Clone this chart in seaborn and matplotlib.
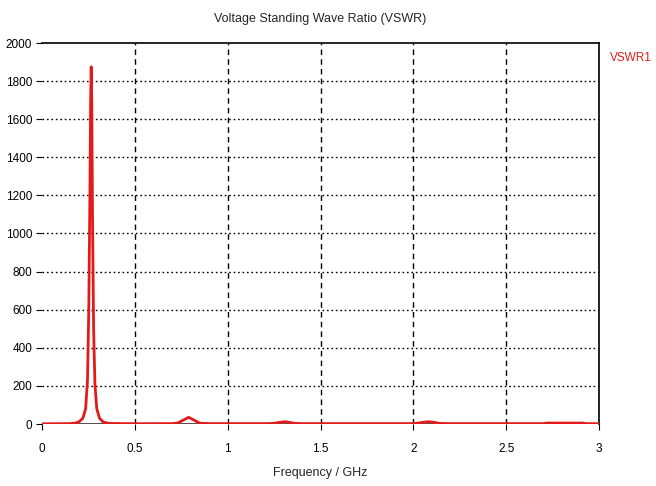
import matplotlib
matplotlib.use("Agg")
import matplotlib.pyplot as plt
import seaborn as sns
import pandas as pd

freq = [0.0, 0.15, 0.18, 0.20, 0.22, 0.235, 0.245, 0.252, 0.258, 0.262, 0.265,
        0.268, 0.272, 0.278, 0.285, 0.295, 0.31, 0.33, 0.36, 0.50, 0.70, 0.73,
        0.76, 0.79, 0.82, 0.85, 0.90, 1.20, 1.245, 1.29, 1.31, 1.33, 1.363, 1.40,
        2.00, 2.02, 2.06, 2.085, 2.11, 2.14, 2.20, 2.70, 2.72, 2.91, 2.93, 3.0]
vswr = [1, 2, 5, 12, 30, 80, 230, 600, 1200, 1700, 1875,
        1700, 1100, 500, 210, 80, 30, 10, 3, 1.5, 2, 5,
        20, 35, 20, 4, 2, 2, 3, 10, 12, 9, 3, 2,
        2, 4, 10, 12, 9, 3, 2, 2, 5, 5, 2, 1.5]
series_name = "VSWR1"
title = "Voltage Standing Wave Ratio (VSWR)"
xlabel = "Frequency / GHz"
xticks = [0, 0.5, 1, 1.5, 2, 2.5, 3]
xticklabels = ["0", "0.5", "1", "1.5", "2", "2.5", "3"]
yticks = [0, 200, 400, 600, 800, 1000, 1200, 1400, 1600, 1800, 2000]

sns.set_theme(style="white")
plt.rcParams['font.family'] = ['Liberation Sans', 'DejaVu Sans']

df = pd.DataFrame({"freq": freq, "vswr": vswr})

fig = plt.figure(figsize=(6.56, 4.86), dpi=100)
ax = fig.add_axes([42/656, 62/486, 557/656, 381/486])

for y in yticks[1:-1]:
    ax.axhline(y, color="black", linestyle=(0, (1.2, 2)), linewidth=1.0, zorder=1)
for x in xticks[1:-1]:
    ax.axvline(x, color="black", linestyle=(0, (4, 3)), linewidth=1.0, zorder=1)

ax.axhline(0, color="#555555", linewidth=2.2, zorder=2)
sns.lineplot(data=df, x="freq", y="vswr", ax=ax, color="#e41a1a", linewidth=2.0,
             zorder=3, legend=False)

ax.set_xlim(0, 3)
ax.set_ylim(0, 2000)
ax.set_xticks(xticks)
ax.set_xticklabels(xticklabels)
ax.set_yticks(yticks)
ax.tick_params(axis="both", labelsize=8.5, colors="black", length=4, width=0.8,
               direction="out", pad=3, left=True, bottom=True)
ax.tick_params(axis="x", pad=10)
ax.set_xlabel(xlabel, fontsize=9, labelpad=8)
ax.set_ylabel("")
ax.set_title(title, fontsize=9, pad=15)

for side in ["left", "bottom"]:
    ax.spines[side].set_visible(False)
for side in ["top", "right"]:
    ax.spines[side].set_visible(True)
    ax.spines[side].set_color("black")
    ax.spines[side].set_linewidth(1.2)

fig.text(610/656, 1 - 58/486, series_name, color="#e41a1a", fontsize=8.5, va="center")

fig.savefig("out.png", dpi=100, facecolor="white")
